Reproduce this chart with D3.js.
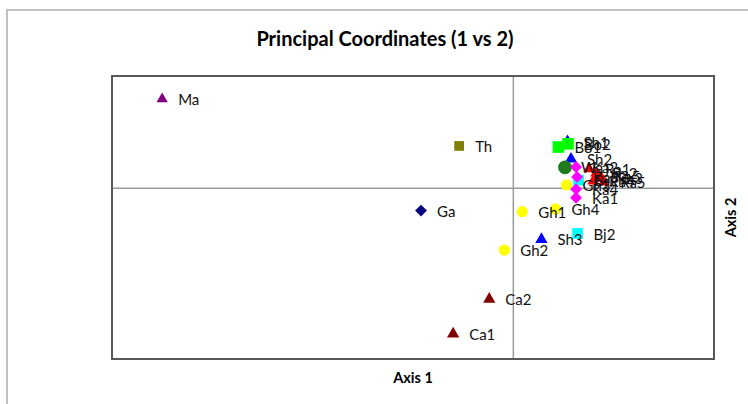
<!DOCTYPE html>
<html>
<head>
<meta charset="utf-8">
<script src="https://cdn.jsdelivr.net/npm/d3@7"></script>
<style>
  body { margin: 0; background: #fff; }
  text { font-family: Lato, "Open Sans", sans-serif; }
</style>
</head>
<body>
<div class="container"></div>
<script>
const WIDTH = 748;
const HEIGHT = 404;
const BOX = {left: 112, right: 714, top: 76, bottom: 359};

// PCoA coordinates (axis 1, axis 2)
var labels = ["Ma", "Th", "Ga", "Gh1", "Gh2", "Gh3", "Gh4", "Sh1", "Sh2", "Sh3",
  "Bj1", "Bj2", "Bo1", "Bo2", "Ca1", "Ca2", "Wa", "Ka1", "Ka2", "Ka3", "Ka4", "Ka5",
  "Ra1", "Ra2", "Ra3", "Ra4", "Ra5"];
var axis1 = [-0.350, -0.054, -0.092, 0.009, -0.009, 0.053, 0.042, 0.054, 0.0575, 0.028,
  0.065, 0.064, 0.045, 0.0545, -0.060, -0.024, 0.0515, 0.0625, 0.0625, 0.0635, 0.0625, 0.0845,
  0.0755, 0.0825, 0.088, 0.0795, 0.0905];
var axis2 = [0.167, 0.079, -0.042, -0.044, -0.116, 0.006, -0.039, 0.087, 0.0545, -0.096,
  0.015, -0.085, 0.077, 0.083, -0.273, -0.208, 0.039, -0.018, 0.0395, 0.021, -0.002, 0.0225,
  0.036, 0.028, 0.019, 0.013, 0.0115];
var groups = ["Ma", "Th", "Ga", "Gh", "Gh", "Gh", "Gh", "Sh", "Sh", "Sh",
  "Bj", "Bj", "Bo", "Bo", "Ca", "Ca", "Wa", "Ka", "Ka", "Ka", "Ka", "Ka",
  "Ra", "Ra", "Ra", "Ra", "Ra"];
var xDomain = [-0.40, 0.20];
var yDomain = [-0.32, 0.21];

// square turned by 45 degrees, wider than d3's own diamond
var wideDiamond = {
  draw: function(context, size){
    var r = Math.sqrt(size / 2);
    context.moveTo(0, -r);
    context.lineTo(r, 0);
    context.lineTo(0, r);
    context.lineTo(-r, 0);
    context.closePath();
  }
};

var markerStyle = {
  Ma: {shape: d3.symbolTriangle, color: "#800080", size: 55},
  Th: {shape: d3.symbolSquare, color: "#808000", size: 95},
  Ga: {shape: wideDiamond, color: "#000080", size: 70},
  Gh: {shape: d3.symbolCircle, color: "#ffff00", size: 100},
  Sh: {shape: d3.symbolTriangle, color: "#0000ff", size: 65},
  Bj: {shape: d3.symbolSquare, color: "#00ffff", size: 115},
  Bo: {shape: d3.symbolSquare, color: "#00ff00", size: 135},
  Ca: {shape: d3.symbolTriangle, color: "#800000", size: 65},
  Wa: {shape: d3.symbolCircle, color: "#1e7b1e", size: 150},
  Ka: {shape: wideDiamond, color: "#ff00ff", size: 70},
  Ra: {shape: d3.symbolTriangle, color: "#ff0000", size: 60}
};

var load = function(){
  var data = labels.map(function(l, i){
    return {label: l, x: axis1[i], y: axis2[i], group: groups[i]};
  });

  var xScale = d3.scaleLinear().domain(xDomain).range([BOX.left, BOX.right]);
  var yScale = d3.scaleLinear().domain(yDomain).range([BOX.bottom, BOX.top]);

  var svg = d3.select(".container").append("svg")
    .attr("width", WIDTH)
    .attr("height", HEIGHT);

  svg.append("rect").attr("width", WIDTH).attr("height", HEIGHT).attr("fill", "#fff");

  // outer chart frame (only top and left edges are in view)
  svg.append("path")
    .attr("d", "M7," + HEIGHT + "V10H" + WIDTH)
    .attr("fill", "none")
    .attr("stroke", "#c0c0c0")
    .attr("stroke-width", 2);

  svg.append("text")
    .attr("x", 385).attr("y", 46)
    .attr("text-anchor", "middle")
    .style("font-size", "20px").style("font-weight", "bold")
    .text("Principal Coordinates (1 vs 2)");

  // zero lines
  svg.append("line")
    .attr("x1", xScale(0)).attr("x2", xScale(0))
    .attr("y1", BOX.top).attr("y2", BOX.bottom)
    .attr("stroke", "#9a9a9a").attr("stroke-width", 1.5);
  svg.append("line")
    .attr("x1", BOX.left).attr("x2", BOX.right)
    .attr("y1", yScale(0)).attr("y2", yScale(0))
    .attr("stroke", "#9a9a9a").attr("stroke-width", 1.5);

  svg.append("rect")
    .attr("x", BOX.left).attr("y", BOX.top)
    .attr("width", BOX.right - BOX.left).attr("height", BOX.bottom - BOX.top)
    .attr("fill", "none").attr("stroke", "#585858").attr("stroke-width", 2);

  var points = svg.append("g");
  points.selectAll("path").data(data)
    .enter()
    .append("path")
    .attr("transform", function(d){ return "translate(" + xScale(d.x) + "," + yScale(d.y) + ")"; })
    .attr("d", function(d){
      var s = markerStyle[d.group];
      return d3.symbol().type(s.shape).size(s.size)();
    })
    .attr("fill", function(d){ return markerStyle[d.group].color; });

  points.selectAll("text").data(data)
    .enter()
    .append("text")
    .attr("x", function(d){ return xScale(d.x) + 16; })
    .attr("y", function(d){ return yScale(d.y) + 6; })
    .style("font-size", "15px")
    .attr("fill", "#111")
    .text(function(d){ return d.label; });

  svg.append("text")
    .attr("x", (BOX.left + BOX.right) / 2).attr("y", 383)
    .attr("text-anchor", "middle")
    .style("font-size", "14.5px").style("font-weight", "bold")
    .text("Axis 1");

  svg.append("text")
    .attr("transform", "translate(736," + (BOX.top + BOX.bottom) / 2 + ") rotate(-90)")
    .attr("text-anchor", "middle")
    .style("font-size", "14.5px").style("font-weight", "bold")
    .text("Axis 2");
};

window.onload = load;
</script>
</body>
</html>
